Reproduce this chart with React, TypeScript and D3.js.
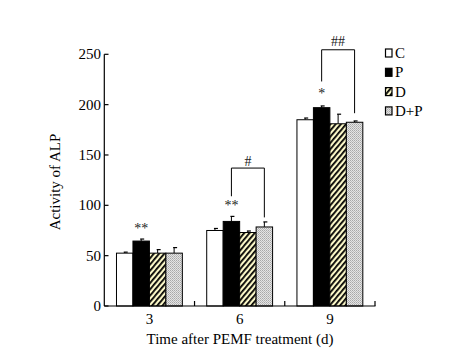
import React from "react";
import * as d3 from "d3";

const categories = ["3", "6", "9"];
const seriesNames = ["C", "P", "D", "D+P"];
const values = [
  [52.5, 64.5, 52.5, 52.5],
  [75, 84, 73, 78.5],
  [185, 197, 181, 182.5],
];
const errors = [
  [1, 2, 3.5, 5.5],
  [2, 5, 1.5, 5],
  [1.7, 1.7, 9.5, 1.3],
];
const yTicks = [0, 50, 100, 150, 200, 250];

const W = 476;
const H = 357;
const FONT = "'Liberation Serif', 'Times New Roman', serif";

export default function App() {
  const y = d3.scaleLinear().domain([0, 250]).range([306, 54.3]);
  const x = d3
    .scaleBand<string>()
    .domain(categories)
    .range([104.3, 375])
    .paddingInner(0.27)
    .paddingOuter(0.135);
  const xs = d3
    .scaleBand<string>()
    .domain(seriesNames)
    .range([0, x.bandwidth()]);
  const step = x.step();
  const fills = ["#ffffff", "#000000", "url(#hatch)", "url(#dots)"];
  const boundaries = categories.map((c) => (x(c) as number) + x.bandwidth() + (step * 0.27) / 2);

  const barCenter = (ci: number, si: number) =>
    (x(categories[ci]) as number) + (xs(seriesNames[si]) as number) + xs.bandwidth() / 2;

  const b2 = { ci: 1, top: 137, lb: 109, rb: 88, label: "#", off: 2 };
  const b3 = { ci: 2, top: 254.5, lb: 223, rb: 191.5, label: "##", off: 4 };

  return (
    <svg width={W} height={H} style={{ position: "absolute", left: 0, top: 0, background: "#fff" }} fontFamily={FONT}>
      <defs>
        <pattern id="hatch" patternUnits="userSpaceOnUse" width="4" height="4" patternTransform="rotate(40)">
          <rect width="4" height="4" fill="#fbf8c8" />
          <rect width="1.8" height="4" fill="#000" />
        </pattern>
        <pattern id="dots" patternUnits="userSpaceOnUse" width="2" height="2">
          <rect width="2" height="2" fill="#e4e4e4" />
          <rect width="1" height="1" fill="#a8a8a8" />
          <rect x="1" y="1" width="1" height="1" fill="#bcbcbc" />
        </pattern>
      </defs>
      <rect width={W} height={H} fill="#fff" />

      {values.map((row, ci) =>
        row.map((v, si) => {
          const bx = (x(categories[ci]) as number) + (xs(seriesNames[si]) as number);
          const cx = barCenter(ci, si);
          const e = errors[ci][si];
          return (
            <g key={`${ci}-${si}`}>
              <line x1={cx} x2={cx} y1={y(v)} y2={y(v + e)} stroke="#000" strokeWidth={1} />
              <line x1={cx - 1} x2={cx + 3} y1={y(v + e)} y2={y(v + e)} stroke="#000" strokeWidth={1.2} />
              <rect x={bx} y={y(v)} width={xs.bandwidth()} height={y(0) - y(v)} fill={fills[si]} stroke="#000" strokeWidth={1} />
            </g>
          );
        })
      )}

      <text x={barCenter(0, 1)} y={y(73)} textAnchor="middle" fontSize={14} fill="#222">**</text>
      <text x={barCenter(1, 1)} y={y(95.5)} textAnchor="middle" fontSize={14} fill="#222">**</text>
      <text x={barCenter(2, 1)} y={y(207)} textAnchor="middle" fontSize={14} fill="#222">*</text>

      {[b2, b3].map((b, i) => {
        const lx = barCenter(b.ci, 1);
        const rx = barCenter(b.ci, 3);
        return (
          <g key={i} stroke="#000" strokeWidth={1} fill="none">
            <path d={`M${lx},${y(b.lb)}V${y(b.top)}H${rx}V${y(b.rb)}`} />
            <text x={(lx + rx) / 2} y={y(b.top) - b.off} textAnchor="middle" fontSize={14} fill="#222" stroke="none">{b.label}</text>
          </g>
        );
      })}

      <g stroke="#000" strokeWidth={1.2}>
        <line x1={104.3} x2={104.3} y1={y(0)} y2={y(250)} />
        <line x1={104.3} x2={375.5} y1={y(0)} y2={y(0)} />
        {yTicks.map((t) => (
          <line key={t} x1={104.3} x2={108.5} y1={y(t)} y2={y(t)} />
        ))}
        {boundaries.map((bx, i) => (
          <line key={i} x1={bx} x2={bx} y1={y(0)} y2={y(0) - 5} />
        ))}
      </g>
      {yTicks.map((t) => (
        <text key={t} x={101} y={y(t) + 5} textAnchor="end" fontSize={15} fill="#000">{t}</text>
      ))}
      {categories.map((c) => (
        <text key={c} x={(x(c) as number) + x.bandwidth() / 2} y={324} textAnchor="middle" fontSize={15} fill="#000">{c}</text>
      ))}
      <text x={240} y={344} textAnchor="middle" fontSize={15} fill="#000">Time after PEMF treatment (d)</text>
      <text transform={`translate(60,182) rotate(-90)`} textAnchor="middle" fontSize={15} fill="#000">Activity of ALP</text>

      {seriesNames.map((s, i) => (
        <g key={s} transform={`translate(385,${49 + i * 19.3})`}>
          <rect x={0.5} y={0} width={6.5} height={8} fill={fills[i]} stroke="#000" strokeWidth={1.2} />
          <text x={10} y={9} fontSize={15} fill="#000">{s}</text>
        </g>
      ))}
    </svg>
  );
}
